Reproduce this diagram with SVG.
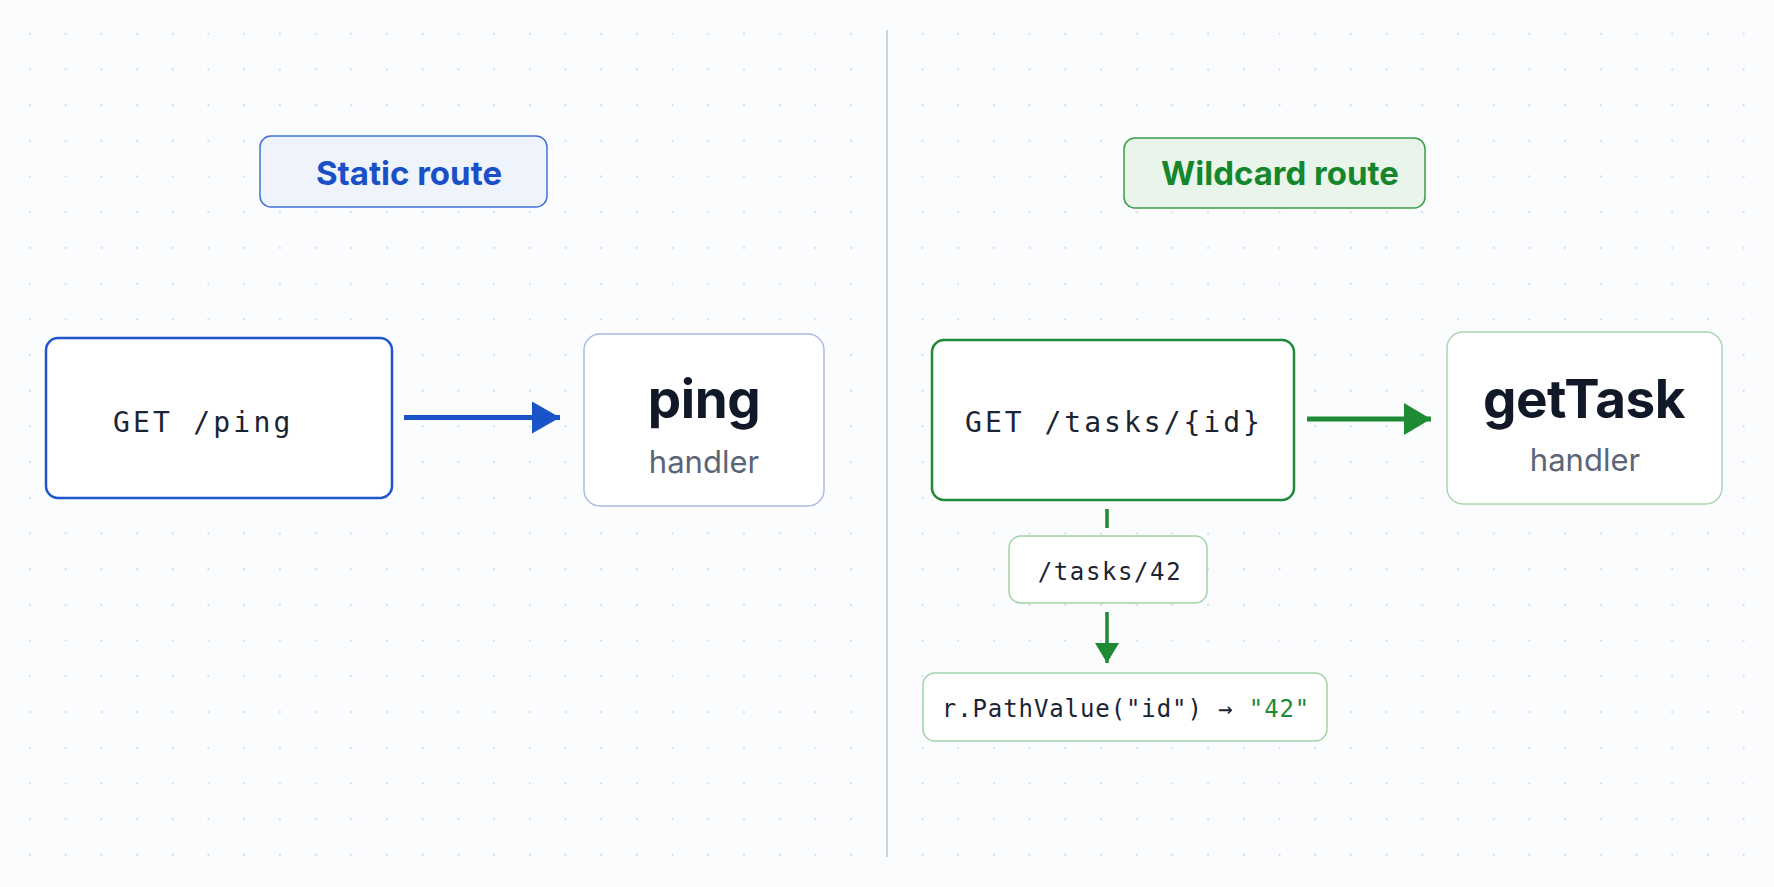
<svg xmlns="http://www.w3.org/2000/svg" width="1774" height="887" viewBox="0 0 1774 887">
<defs>
<pattern id="dots" patternUnits="userSpaceOnUse" x="12.15" y="15.85" width="35.7" height="35.7">
<circle cx="17.85" cy="17.85" r="1.1" fill="#cdd6e8"/>
</pattern>
<marker id="ahBlue" markerUnits="userSpaceOnUse" viewBox="0 0 28 32" refX="28" refY="16" markerWidth="28" markerHeight="32" orient="auto">
<path d="M0,0 L28,16 L0,32 Z" fill="#1a52c9"/>
</marker>
<marker id="ahGreen" markerUnits="userSpaceOnUse" viewBox="0 0 27 32" refX="27" refY="16" markerWidth="27" markerHeight="32" orient="auto">
<path d="M0,0 L27,16 L0,32 Z" fill="#1f8a34"/>
</marker>
<marker id="ahGreenS" markerUnits="userSpaceOnUse" viewBox="0 0 20 24" refX="20" refY="12" markerWidth="20" markerHeight="24" orient="auto">
<path d="M0,0 L20,12 L0,24 Z" fill="#1f8a34"/>
</marker>
</defs>
<style>
.mono{font-family:"DejaVu Sans Mono","Liberation Mono",monospace;fill:#1b2433}
.sans{font-family:Inter,"Liberation Sans",Arial,sans-serif}
.title{font-weight:700;font-size:33px}
.fn{font-weight:700;font-size:53px;fill:#111827;letter-spacing:-0.5px}
.sub{font-size:31px;fill:#5b6577}
</style>
<rect width="1774" height="887" fill="#fbfcfd"/>
<rect width="1774" height="887" fill="url(#dots)"/>
<line x1="887" y1="30" x2="887" y2="857" stroke="#c7d4e3" stroke-width="2"/>

<g id="static-label">
<rect x="260" y="136" width="287" height="71" rx="11" fill="#eef3fc" stroke="#4373d6" stroke-width="1.5"/>
<text class="sans title" x="409" y="185" text-anchor="middle" fill="#1a4fc8">Static route</text>
</g>

<g id="wildcard-label">
<rect x="1124" y="138" width="301" height="70" rx="11" fill="#e9f5eb" stroke="#3c9c48" stroke-width="1.5"/>
<text class="sans title" x="1280" y="185" text-anchor="middle" fill="#15862c">Wildcard route</text>
</g>

<g id="get-ping">
<rect x="46" y="338" width="346" height="160" rx="12" fill="#ffffff" stroke="#1f55cc" stroke-width="2.5"/>
<text class="mono" x="113" y="432" font-size="28" letter-spacing="3.2">GET /ping</text>
</g>

<g id="ping-handler">
<rect x="584" y="334" width="240" height="172" rx="16" fill="#ffffff" stroke="#a9bde2" stroke-width="1.5"/>
<text class="sans fn" x="704" y="418" text-anchor="middle">ping</text>
<text class="sans sub" x="704" y="473" text-anchor="middle">handler</text>
</g>

<g id="get-tasks">
<rect x="932" y="340" width="362" height="160" rx="12" fill="#ffffff" stroke="#1e8a35" stroke-width="2.5"/>
<text class="mono" x="1114" y="432" font-size="28" letter-spacing="3" text-anchor="middle">GET /tasks/{id}</text>
</g>

<g id="gettask-handler">
<rect x="1447" y="332" width="275" height="172" rx="16" fill="#ffffff" stroke="#a9d6b0" stroke-width="1.5"/>
<text class="sans fn" x="1584" y="418" text-anchor="middle">getTask</text>
<text class="sans sub" x="1585" y="471" text-anchor="middle">handler</text>
</g>

<g id="tasks-42">
<rect x="1009" y="536" width="198" height="67" rx="12" fill="#ffffff" stroke="#9fd3a7" stroke-width="1.5"/>
<text class="mono" x="1110" y="580" font-size="24" letter-spacing="1.6" text-anchor="middle">/tasks/42</text>
</g>

<g id="path-value">
<rect x="923" y="673" width="404" height="68" rx="12" fill="#ffffff" stroke="#9fd3a7" stroke-width="1.5"/>
<text class="mono" x="1126" y="717" font-size="24" letter-spacing="0.9" text-anchor="middle">r.PathValue("id") → <tspan fill="#1e8a35">"42"</tspan></text>
</g>

<g id="connectors">
<line x1="404" y1="417.5" x2="560" y2="417.5" stroke="#1a52c9" stroke-width="5" marker-end="url(#ahBlue)"/>
<line x1="1307" y1="419" x2="1431" y2="419" stroke="#1f8a34" stroke-width="5" marker-end="url(#ahGreen)"/>
<line x1="1107" y1="509" x2="1107" y2="528" stroke="#1f8a34" stroke-width="3.5"/>
<line x1="1107" y1="612" x2="1107" y2="663" stroke="#1f8a34" stroke-width="3.5" marker-end="url(#ahGreenS)"/>
</g>
</svg>
